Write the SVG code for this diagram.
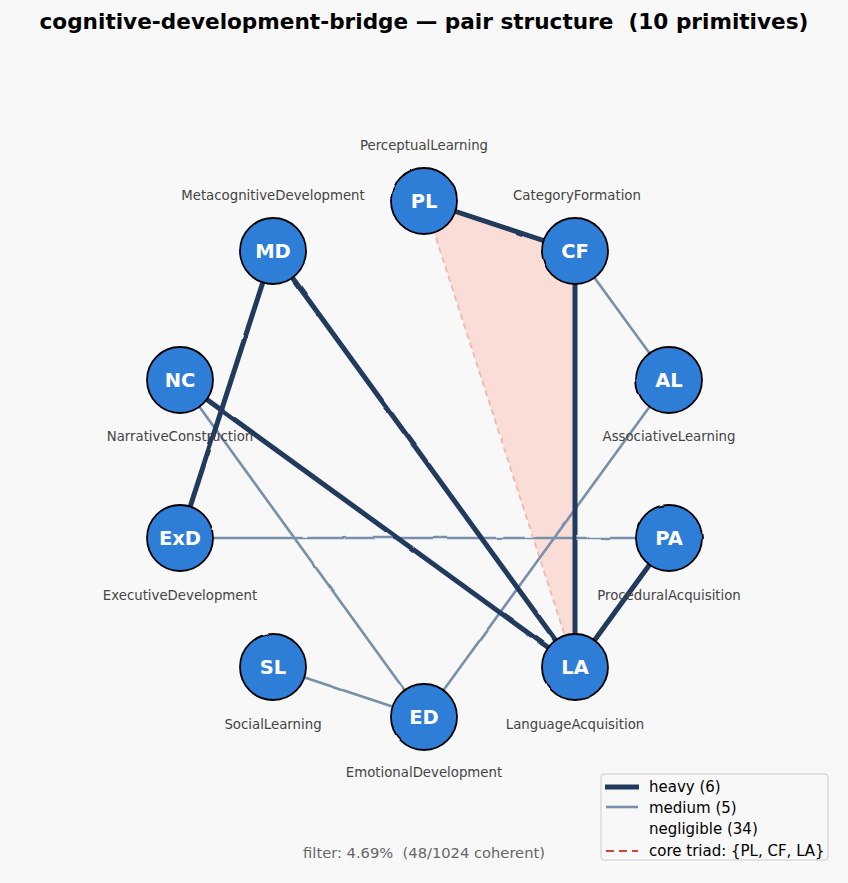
<svg xmlns="http://www.w3.org/2000/svg" width="848" height="883" viewBox="0 0 848 883">
<style>
text{font-family:"DejaVu Sans","Liberation Sans",sans-serif;white-space:pre}
.title{font-size:21.6px;font-weight:bold;fill:#000}
.nl{font-size:19.5px;font-weight:bold;fill:#fff;text-anchor:middle}
.lab{font-size:13.3px;fill:#444;text-anchor:middle}
.node{fill:#2f7ed8;stroke:#000;stroke-width:1.8}
.heavy{stroke:#213a5c;stroke-width:5;stroke-linecap:round}
.medium{stroke:#7890aa;stroke-width:2.6;stroke-linecap:round}
.leg{font-size:15px;fill:#000}
</style>
<defs>
<filter id="wob" x="-5%" y="-5%" width="110%" height="110%">
<feTurbulence type="fractalNoise" baseFrequency="0.04" numOctaves="1" seed="3"/>
<feDisplacementMap in="SourceGraphic" scale="2.2" xChannelSelector="R" yChannelSelector="G"/>
</filter>
</defs>
<rect width="848" height="883" fill="#f8f8f8"/>
<text class="title" x="424" y="29" text-anchor="middle" xml:space="preserve">cognitive-development-bridge — pair structure  (10 primitives)</text>
<g id="triad" filter="url(#wob)">
<polygon points="424,201 575,251 575,667" fill="#f9ddd6" stroke="#f2b8b0" stroke-width="1.8" stroke-dasharray="6,4"/>
</g>
<g id="connectors" filter="url(#wob)">
<line class="medium" x1="575" y1="251" x2="669" y2="380"/>
<line class="medium" x1="669" y1="380" x2="424" y2="717"/>
<line class="medium" x1="180" y1="380" x2="424" y2="717"/>
<line class="medium" x1="180" y1="538" x2="669" y2="538"/>
<line class="medium" x1="273" y1="667" x2="424" y2="717"/>
<line class="heavy" x1="424" y1="201" x2="575" y2="251"/>
<line class="heavy" x1="575" y1="251" x2="575" y2="667"/>
<line class="heavy" x1="273" y1="251" x2="180" y2="538"/>
<line class="heavy" x1="273" y1="251" x2="575" y2="667"/>
<line class="heavy" x1="180" y1="380" x2="575" y2="667"/>
<line class="heavy" x1="669" y1="538" x2="575" y2="667"/>
</g>
<g id="PL"><circle class="node" cx="424" cy="201" r="33" filter="url(#wob)"/><text class="nl" x="424" y="208">PL</text><text class="lab" x="424" y="150">PerceptualLearning</text></g>
<g id="CF"><circle class="node" cx="575" cy="251" r="33" filter="url(#wob)"/><text class="nl" x="575" y="258">CF</text><text class="lab" x="577" y="200">CategoryFormation</text></g>
<g id="AL"><circle class="node" cx="669" cy="380" r="33" filter="url(#wob)"/><text class="nl" x="669" y="387">AL</text><text class="lab" x="669" y="441">AssociativeLearning</text></g>
<g id="PA"><circle class="node" cx="669" cy="538" r="33" filter="url(#wob)"/><text class="nl" x="669" y="545">PA</text><text class="lab" x="669" y="600">ProceduralAcquisition</text></g>
<g id="LA"><circle class="node" cx="575" cy="667" r="33" filter="url(#wob)"/><text class="nl" x="575" y="674">LA</text><text class="lab" x="575" y="729">LanguageAcquisition</text></g>
<g id="ED"><circle class="node" cx="424" cy="717" r="33" filter="url(#wob)"/><text class="nl" x="424" y="724">ED</text><text class="lab" x="424" y="777">EmotionalDevelopment</text></g>
<g id="SL"><circle class="node" cx="273" cy="667" r="33" filter="url(#wob)"/><text class="nl" x="273" y="674">SL</text><text class="lab" x="273" y="729">SocialLearning</text></g>
<g id="ExD"><circle class="node" cx="180" cy="538" r="33" filter="url(#wob)"/><text class="nl" x="180" y="545">ExD</text><text class="lab" x="180" y="600">ExecutiveDevelopment</text></g>
<g id="NC"><circle class="node" cx="180" cy="380" r="33" filter="url(#wob)"/><text class="nl" x="180" y="387">NC</text><text class="lab" x="180" y="441">NarrativeConstruction</text></g>
<g id="MD"><circle class="node" cx="273" cy="251" r="33" filter="url(#wob)"/><text class="nl" x="273" y="258">MD</text><text class="lab" x="273" y="200">MetacognitiveDevelopment</text></g>
<text x="424" y="858" text-anchor="middle" xml:space="preserve" style="font-size:14.7px;fill:#666">filter: 4.69%  (48/1024 coherent)</text>
<g id="legend">
<rect x="601" y="774" width="227" height="86" rx="3" fill="#f8f8f8" stroke="#cccccc" stroke-width="1"/>
<line x1="605" y1="787" x2="639" y2="787" stroke="#213a5c" stroke-width="5"/>
<line x1="606" y1="807" x2="638" y2="807" stroke="#7890aa" stroke-width="2.6"/>
<line x1="606" y1="851" x2="638" y2="851" stroke="#d0453a" stroke-width="2" stroke-dasharray="8,5"/>
<text class="leg" x="649" y="792">heavy (6)</text>
<text class="leg" x="649" y="813">medium (5)</text>
<text class="leg" x="649" y="834">negligible (34)</text>
<text class="leg" x="649" y="856">core triad: {PL, CF, LA}</text>
</g>
</svg>
